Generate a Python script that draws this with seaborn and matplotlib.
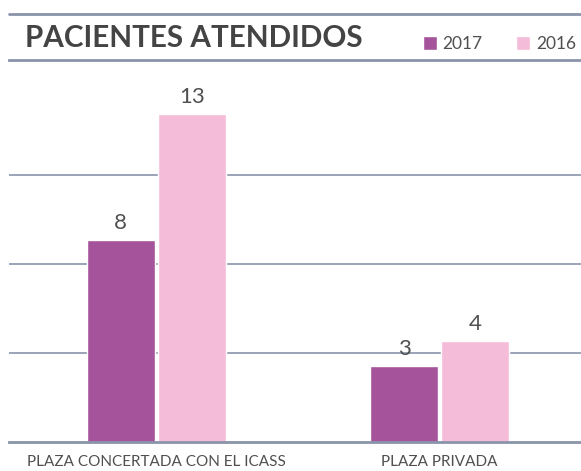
import matplotlib
matplotlib.use('Agg')
import matplotlib.pyplot as plt
from matplotlib.lines import Line2D
import seaborn as sns
import pandas as pd

# data
categorias = ['PLAZA CONCERTADA CON EL ICASS', 'PLAZA PRIVADA']
pacientes_2017 = [8, 3]
pacientes_2016 = [13, 4]
anios = ['2017', '2016']
colores = {'2017': '#a5549c', '2016': '#f4bcd9'}

df = pd.DataFrame({
    'categoria': categorias * 2,
    'anio': ['2017'] * len(categorias) + ['2016'] * len(categorias),
    'pacientes': pacientes_2017 + pacientes_2016,
})

sns.set_style('white')
plt.rcParams['font.family'] = ['Lato', 'DejaVu Sans']

W, H = 581, 471
fig = plt.figure(figsize=(W / 100, H / 100), dpi=100)
ax = fig.add_axes([9 / W, (H - 442) / H, 1 - 9 / W, (442 - 60) / H])

line_col = '#8a93aa'
text_col = '#505050'

sns.barplot(data=df, x='categoria', y='pacientes', hue='anio',
            hue_order=anios, palette=colores, width=0.5, gap=0.04,
            saturation=1, ax=ax, legend=True)

for cont in ax.containers:
    ax.bar_label(cont, padding=5, fontsize=16, color=text_col,
                 fontweight='normal')

ax.set_xlim(-0.52, 1.5)
ax.set_ylim(0, 15.16)
ax.set_yticks([3.55, 7.07, 10.6])
ax.set_yticklabels([])
ax.tick_params(axis='both', length=0)
ax.yaxis.grid(True, color=line_col, linewidth=1.2)
ax.set_axisbelow(True)
ax.set(xlabel=None, ylabel=None)

for lab in ax.get_xticklabels():
    lab.set_fontsize(11)
    lab.set_color(text_col)
ax.tick_params(axis='x', pad=9)

for side in ['left', 'right']:
    ax.spines[side].set_visible(False)
for side in ['top', 'bottom']:
    ax.spines[side].set_color(line_col)
    ax.spines[side].set_linewidth(2)

# top rule above the title
fig.add_artist(Line2D([9 / W, 1], [1 - 14 / H, 1 - 14 / H],
                      color=line_col, linewidth=2))

fig.text(25 / W, 1 - 38 / H, 'PACIENTES ATENDIDOS', fontsize=21.3,
         fontweight='bold', color='#444444', va='center', ha='left')

ax.legend(ncol=2, frameon=False, loc='center right',
          bbox_to_anchor=(1.0, 1 - 44 / H), bbox_transform=fig.transFigure,
          handlelength=0.8, handleheight=0.8, handletextpad=0.35,
          columnspacing=1.9, borderaxespad=0.1, borderpad=0.2,
          prop={'size': 12.5}, labelcolor=text_col)

fig.savefig('out.png', dpi=100)
